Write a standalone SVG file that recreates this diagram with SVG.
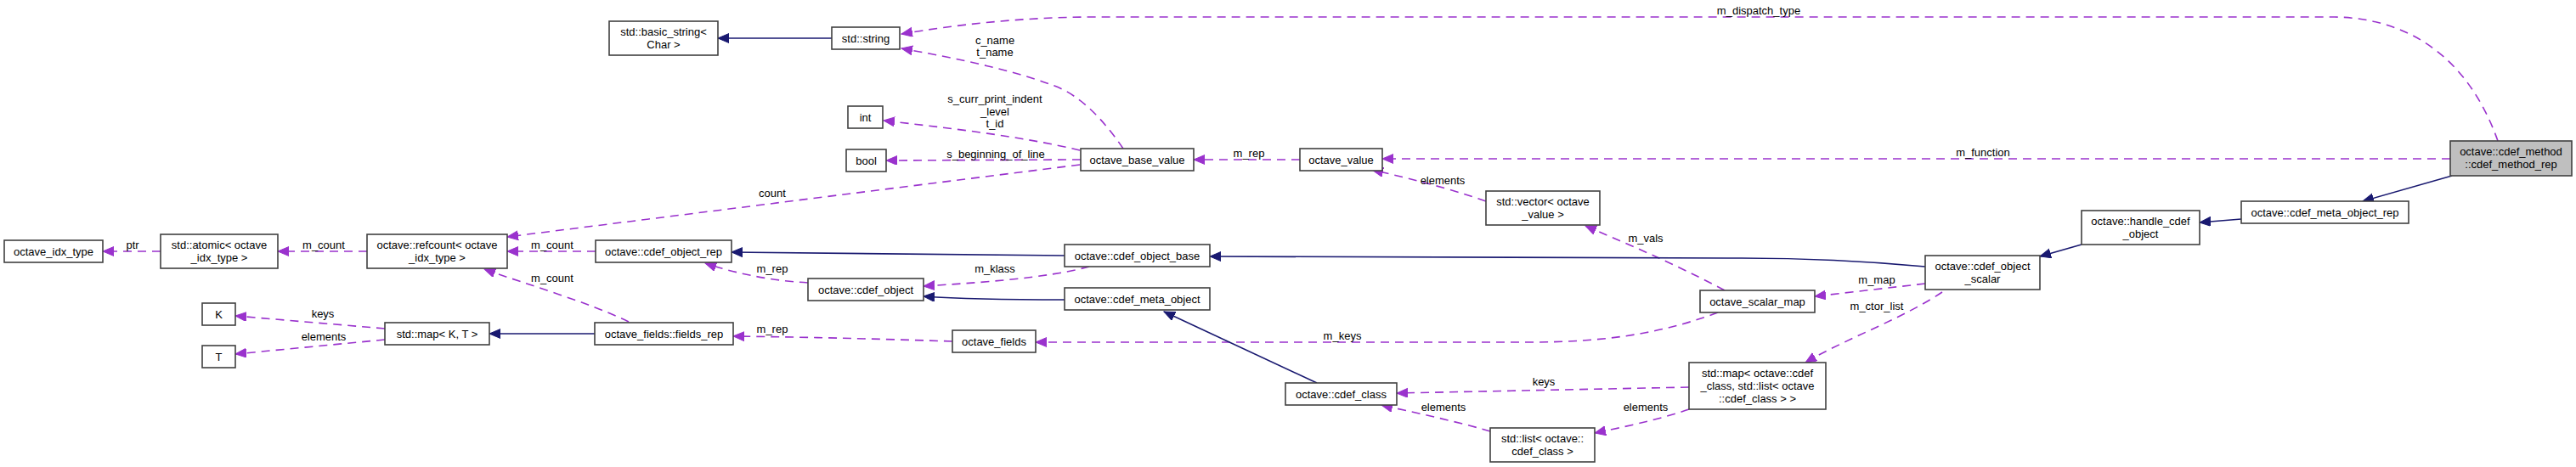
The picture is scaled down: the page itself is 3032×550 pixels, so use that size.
<svg xmlns="http://www.w3.org/2000/svg" width="3032" height="550" viewBox="0 0 3032 550">
<style>
text{font-family:"Liberation Sans",Arial,sans-serif;font-size:13px;fill:#000;text-anchor:middle}
.box{fill:#fff;stroke:#404040;stroke-width:1.6}
.hl{fill:#bfbfbf;stroke:#404040;stroke-width:1.6}
.inh{fill:none;stroke:#191970;stroke-width:1.6;marker-end:url(#an)}
.use{fill:none;stroke:#9a32cd;stroke-width:1.6;stroke-dasharray:10,7;marker-end:url(#ap)}
</style>
<defs>
<marker id="an" markerUnits="userSpaceOnUse" markerWidth="14" markerHeight="12" refX="13" refY="5.5" orient="auto"><path d="M0,0 L13,5.5 L0,11 z" fill="#191970" stroke="#191970" stroke-width="1"/></marker>
<marker id="ap" markerUnits="userSpaceOnUse" markerWidth="14" markerHeight="12" refX="13" refY="5.5" orient="auto"><path d="M0,0 L13,5.5 L0,11 z" fill="#9a32cd" stroke="#9a32cd" stroke-width="1"/></marker>
</defs>
<rect width="3032" height="550" fill="#fff"/>
<g id="edges">
<path class="inh" d="M979,45 L845,45"/>
<path class="use" d="M2940,166 C2915,95 2860,22 2748,20 L1290,20 C1200,20 1120,30 1061,40"/>
<path class="use" d="M1322,175 C1305,150 1275,112 1238,100 C1185,80 1110,66 1061,57"/>
<path class="use" d="M1271,177 C1200,160 1110,150 1040,142"/>
<path class="use" d="M1272,188 L1043,189"/>
<path class="use" d="M1271,194 L597,279"/>
<path class="use" d="M1530,188 L1405,188"/>
<path class="use" d="M2884,187 L1627,187"/>
<path class="use" d="M1749,237 C1700,220 1650,208 1615,200"/>
<path class="use" d="M2030,342 C1970,310 1910,285 1866,266"/>
<path class="inh" d="M2886,207 L2781,237"/>
<path class="inh" d="M2638,258 L2589,262"/>
<path class="inh" d="M2450,288 L2401,302"/>
<path class="inh" d="M2266,314 C2180,306 2120,304 2050,304 L1424,302"/>
<path class="use" d="M2266,334 L2136,349"/>
<path class="use" d="M2286,344 C2240,375 2170,400 2125,427"/>
<path class="inh" d="M1253,301 L861,297"/>
<path class="use" d="M1282,314 C1230,328 1150,333 1087,337"/>
<path class="inh" d="M1253,353 C1190,353 1130,352 1087,349"/>
<path class="use" d="M951,333 C900,330 860,320 830,310"/>
<path class="use" d="M701,296 L597,296"/>
<path class="use" d="M432,296 L327,296"/>
<path class="use" d="M189,296 L121,296"/>
<path class="use" d="M740,379 C690,355 620,335 570,317"/>
<path class="inh" d="M700,393 L576,393"/>
<path class="use" d="M453,387 L277,372"/>
<path class="use" d="M453,400 L277,417"/>
<path class="use" d="M1121,402 C1030,399 950,397 863,396"/>
<path class="use" d="M2022,368 C1950,395 1880,403 1800,403 L1219,403"/>
<path class="inh" d="M1550,451 L1370,367"/>
<path class="use" d="M1988,456 L1644,463"/>
<path class="use" d="M1754,508 C1710,495 1660,485 1626,477"/>
<path class="use" d="M1988,482 C1950,495 1910,503 1877,510"/>
<text x="2070" y="16.5">m_dispatch_type</text>
<text x="1171" y="51.5">c_name</text>
<text x="1171" y="65.5">t_name</text>
<text x="1171" y="120.5">s_curr_print_indent</text>
<text x="1171" y="135.5">_level</text>
<text x="1171" y="149.5">t_id</text>
<text x="1172" y="185.5">s_beginning_of_line</text>
<text x="909" y="231.5">count</text>
<text x="1470" y="184.5">m_rep</text>
<text x="2334" y="183.5">m_function</text>
<text x="1698" y="216.5">elements</text>
<text x="1937" y="284.5">m_vals</text>
<text x="2209" y="333.5">m_map</text>
<text x="2209" y="364.5">m_ctor_list</text>
<text x="1171" y="320.5">m_klass</text>
<text x="909" y="320.5">m_rep</text>
<text x="650" y="292.5">m_count</text>
<text x="381" y="292.5">m_count</text>
<text x="156" y="292.5">ptr</text>
<text x="650" y="331.5">m_count</text>
<text x="380" y="373.5">keys</text>
<text x="381" y="400.5">elements</text>
<text x="909" y="391.5">m_rep</text>
<text x="1580" y="399.5">m_keys</text>
<text x="1817" y="453.5">keys</text>
<text x="1699" y="483.5">elements</text>
<text x="1937" y="483.5">elements</text>
</g>
<g id="n_basic_string"><rect class="box" x="717" y="25" width="128" height="40"/><text x="781" y="42">std::basic_string&lt;</text><text x="781" y="57">Char &gt;</text></g>
<g id="n_string"><rect class="box" x="979" y="32" width="80" height="26"/><text x="1019" y="49.5">std::string</text></g>
<g id="n_int"><rect class="box" x="998" y="125" width="41" height="26"/><text x="1018.5" y="142.5">int</text></g>
<g id="n_bool"><rect class="box" x="996" y="176" width="47" height="26"/><text x="1019.5" y="193.5">bool</text></g>
<g id="n_octave_base_value"><rect class="box" x="1272" y="175" width="133" height="26"/><text x="1338.5" y="192.5">octave_base_value</text></g>
<g id="n_octave_value"><rect class="box" x="1530" y="175" width="97" height="26"/><text x="1578.5" y="192.5">octave_value</text></g>
<g id="n_vector"><rect class="box" x="1749" y="225" width="134" height="40"/><text x="1816" y="242">std::vector&lt; octave</text><text x="1816" y="257">_value &gt;</text></g>
<g id="n_cdef_method_rep"><rect class="hl" x="2884" y="166" width="143" height="41"/><text x="2955.5" y="183">octave::cdef_method</text><text x="2955.5" y="198">::cdef_method_rep</text></g>
<g id="n_cdef_meta_object_rep"><rect class="box" x="2638" y="237" width="197" height="26"/><text x="2736.5" y="254.5">octave::cdef_meta_object_rep</text></g>
<g id="n_handle_cdef_object"><rect class="box" x="2450" y="248" width="139" height="40"/><text x="2519.5" y="265">octave::handle_cdef</text><text x="2519.5" y="280">_object</text></g>
<g id="n_cdef_object_scalar"><rect class="box" x="2266" y="301" width="135" height="40"/><text x="2333.5" y="318">octave::cdef_object</text><text x="2333.5" y="333">_scalar</text></g>
<g id="n_octave_scalar_map"><rect class="box" x="2001" y="342" width="135" height="26"/><text x="2068.5" y="359.5">octave_scalar_map</text></g>
<g id="n_std_map_cdef"><rect class="box" x="1988" y="427" width="161" height="55"/><text x="2068.5" y="443.5">std::map&lt; octave::cdef</text><text x="2068.5" y="458.5">_class, std::list&lt; octave</text><text x="2068.5" y="473.5">::cdef_class &gt; &gt;</text></g>
<g id="n_std_list"><rect class="box" x="1754" y="504" width="123" height="40"/><text x="1815.5" y="521">std::list&lt; octave::</text><text x="1815.5" y="536">cdef_class &gt;</text></g>
<g id="n_cdef_class"><rect class="box" x="1513" y="451" width="131" height="26"/><text x="1578.5" y="468.5">octave::cdef_class</text></g>
<g id="n_octave_fields"><rect class="box" x="1121" y="389" width="98" height="26"/><text x="1170" y="406.5">octave_fields</text></g>
<g id="n_cdef_meta_object"><rect class="box" x="1253" y="339" width="171" height="26"/><text x="1338.5" y="356.5">octave::cdef_meta_object</text></g>
<g id="n_cdef_object_base"><rect class="box" x="1253" y="288" width="171" height="26"/><text x="1338.5" y="305.5">octave::cdef_object_base</text></g>
<g id="n_cdef_object"><rect class="box" x="951" y="328" width="136" height="26"/><text x="1019" y="345.5">octave::cdef_object</text></g>
<g id="n_cdef_object_rep"><rect class="box" x="701" y="283" width="160" height="26"/><text x="781" y="300.5">octave::cdef_object_rep</text></g>
<g id="n_refcount"><rect class="box" x="432" y="276" width="165" height="40"/><text x="514.5" y="293">octave::refcount&lt; octave</text><text x="514.5" y="308">_idx_type &gt;</text></g>
<g id="n_atomic"><rect class="box" x="189" y="276" width="138" height="40"/><text x="258" y="293">std::atomic&lt; octave</text><text x="258" y="308">_idx_type &gt;</text></g>
<g id="n_octave_idx_type"><rect class="box" x="5" y="283" width="116" height="26"/><text x="63" y="300.5">octave_idx_type</text></g>
<g id="n_fields_rep"><rect class="box" x="700" y="380" width="163" height="26"/><text x="781.5" y="397.5">octave_fields::fields_rep</text></g>
<g id="n_map_KT"><rect class="box" x="453" y="380" width="123" height="26"/><text x="514.5" y="397.5">std::map&lt; K, T &gt;</text></g>
<g id="n_K"><rect class="box" x="238" y="357" width="39" height="26"/><text x="257.5" y="374.5">K</text></g>
<g id="n_T"><rect class="box" x="238" y="407" width="39" height="26"/><text x="257.5" y="424.5">T</text></g>
</svg>
